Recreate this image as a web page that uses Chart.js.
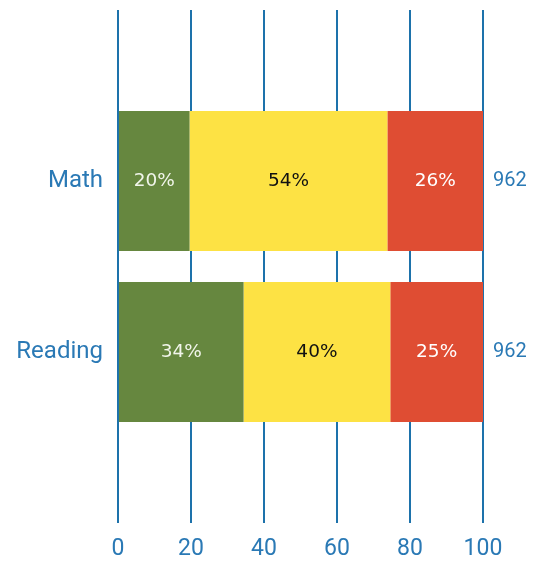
<!DOCTYPE html>
<html>
<head>
<meta charset="utf-8">
<script src="https://cdn.jsdelivr.net/npm/chart.js@4/dist/chart.umd.min.js"></script>
<style>
html,body{margin:0;padding:0;background:#fff;}
#wrap{width:536px;height:562px;position:relative;}
</style>
</head>
<body>
<div id="wrap"><canvas id="c"></canvas></div>
<script>
// ---- data ----
const categories = ['Math', 'Reading'];
const totals = ['962', '962'];
const seriesNames = ['Green', 'Yellow', 'Red'];
const greenValues = [19.6, 34.4];
const yellowValues = [54.2, 40.2];
const redValues = [26.2, 25.4];
const xTicks = [0, 20, 40, 60, 80, 100];

const colors = ['#66873f', '#fde244', '#df4d33'];
const labelColors = ['#f1f5ea', '#111111', '#ffffff'];

// pad an empty slot above and below so the bars sit where the reference places them
const pad = arr => [null, ...arr, null];
const yLabels = ['', ...categories, ''];
const yRightLabels = ['', ...totals, ''];

const FONT = "Roboto, 'Liberation Sans', Arial, sans-serif";
const LABEL_FONT = "'DejaVu Sans', Verdana, sans-serif";
const TXT = '#2a79b5';

const valueLabels = {
  id: 'valueLabels',
  afterDatasetsDraw(chart) {
    const ctx = chart.ctx;
    ctx.save();
    ctx.font = '18.5px ' + LABEL_FONT;
    ctx.textAlign = 'center';
    ctx.textBaseline = 'middle';
    chart.data.datasets.forEach((ds, di) => {
      const meta = chart.getDatasetMeta(di);
      meta.data.forEach((bar, i) => {
        const v = ds.data[i];
        if (v == null) return;
        const p = bar.getProps(['x', 'y', 'base'], true);
        ctx.fillStyle = labelColors[di];
        ctx.fillText(Math.round(v) + '%', (p.x + p.base) / 2, p.y);
      });
    });
    ctx.restore();
  }
};

const fitSide = w => s => { s.width = w; s.paddingTop = 0; s.paddingBottom = 0; };

new Chart(document.getElementById('c'), {
  type: 'bar',
  data: {
    labels: yLabels,
    datasets: [
      { label: seriesNames[0], data: pad(greenValues), backgroundColor: colors[0] },
      { label: seriesNames[1], data: pad(yellowValues), backgroundColor: colors[1] },
      { label: seriesNames[2], data: pad(redValues), backgroundColor: colors[2] }
    ]
  },
  options: {
    indexAxis: 'y',
    responsive: true,
    maintainAspectRatio: false,
    animation: false,
    layout: { padding: { top: 10, left: 0, right: 0, bottom: 0 } },
    datasets: { bar: { categoryPercentage: 0.91, barPercentage: 0.9, borderWidth: 0 } },
    plugins: { legend: { display: false }, tooltip: { enabled: false } },
    scales: {
      x: {
        stacked: true,
        min: 0, max: 100,
        afterBuildTicks: s => { s.ticks = xTicks.map(v => ({ value: v })); },
        afterFit: s => { s.height = 39; },
        grid: { color: '#1d72ab', lineWidth: 2, drawTicks: false },
        border: { display: false },
        ticks: { color: TXT, font: { family: FONT, size: 23 }, padding: 12 }
      },
      y: {
        stacked: true,
        offset: false,
        afterFit: fitSide(118),
        grid: { display: false, drawTicks: false },
        border: { display: false },
        ticks: { color: TXT, font: { family: FONT, size: 24 }, padding: 15 }
      },
      y2: {
        type: 'category',
        position: 'right',
        labels: yRightLabels,
        offset: false,
        afterFit: fitSide(53),
        grid: { display: false, drawTicks: false },
        border: { display: false },
        ticks: { color: TXT, font: { family: FONT, size: 20 }, padding: 10 }
      }
    }
  },
  plugins: [valueLabels]
});
</script>
</body>
</html>
